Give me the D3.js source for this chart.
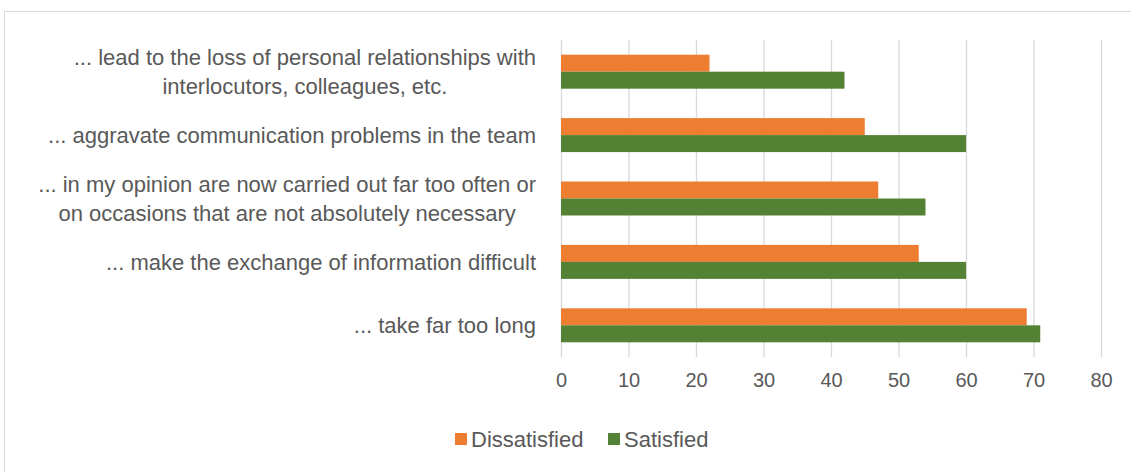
<!DOCTYPE html>
<html>
<head>
<meta charset="utf-8">
<script src="https://cdn.jsdelivr.net/npm/d3@7"></script>
<style>
  html, body { margin: 0; padding: 0; background: #fff; }
  svg { display: block; }
  text { font-family: "Liberation Sans", Arial, sans-serif; fill: #595959; }
</style>
</head>
<body>
<svg id="chart" width="1131" height="472"></svg>
<script>
// Statements, top to bottom (each may wrap onto two lines)
const categories = [
  ["... lead to the loss of personal relationships with", "interlocutors, colleagues, etc."],
  ["... aggravate communication problems in the team"],
  ["... in my opinion are now carried out far too often or", "on occasions that are not absolutely necessary"],
  ["... make the exchange of information difficult"],
  ["... take far too long"]
];
const seriesNames = ["Dissatisfied", "Satisfied"];
const dissatisfied = [22, 45, 47, 53, 69];
const satisfied = [42, 60, 54, 60, 71];
const xTicks = [0, 10, 20, 30, 40, 50, 60, 70, 80];
const colors = ["#ED7D31", "#548235"];

const svg = d3.select("#chart");

// Chart frame
svg.append("rect")
  .attr("x", 4.5).attr("y", 11.5)
  .attr("width", 1140).attr("height", 480)
  .attr("fill", "#fff").attr("stroke", "#d9d9d9").attr("stroke-width", 1);

const plot = { left: 561, right: 1101, top: 40, bottom: 357 };

const x = d3.scaleLinear().domain([0, 80]).range([plot.left, plot.right]);
const keys = categories.map((c, i) => i);
const y = d3.scaleBand().domain(keys).range([plot.top, plot.bottom])
  .paddingInner(0.464).paddingOuter(0.232);
const ySub = d3.scaleBand().domain([0, 1]).range([0, y.bandwidth()]);

// Vertical gridlines
const grid = svg.append("g")
  .attr("transform", `translate(0,${plot.bottom})`)
  .call(d3.axisBottom(x).tickValues(xTicks).tickSize(-(plot.bottom - plot.top)).tickFormat(""));
grid.select(".domain").remove();
grid.selectAll("line").attr("stroke", "#d9d9d9").attr("stroke-width", 1.3);

// Tick labels
const ax = svg.append("g")
  .attr("transform", `translate(0,${plot.bottom + 16})`)
  .call(d3.axisBottom(x).tickValues(xTicks).tickSize(0).tickPadding(0));
ax.select(".domain").remove();
ax.selectAll("text")
  .style("font-family", "'Liberation Sans', Arial, sans-serif")
  .style("font-size", "20px").attr("fill", "#595959").attr("dy", "0.71em");

// Bars
const series = [dissatisfied, satisfied];
series.forEach((vals, s) => {
  svg.append("g").selectAll("rect")
    .data(vals)
    .join("rect")
    .attr("x", x(0))
    .attr("y", (d, i) => y(i) + ySub(s))
    .attr("width", d => x(d) - x(0))
    .attr("height", ySub.bandwidth())
    .attr("fill", colors[s]);
});

// Category labels: block right-aligned to the axis, lines centred within the block
const lineH = 29;
const labelRight = 536;
const labels = svg.append("g");
categories.forEach((lines, i) => {
  const cy = y(i) + y.bandwidth() / 2;
  const t = labels.append("text")
    .attr("text-anchor", "middle")
    .attr("font-size", "22px");
  const spans = lines.map((ln, j) => t.append("tspan")
    .attr("y", cy + (j - (lines.length - 1) / 2) * lineH)
    .attr("dy", "0.35em")
    .text(ln));
  const maxW = d3.max(spans, sp => sp.node().getComputedTextLength());
  spans.forEach(sp => sp.attr("x", labelRight - maxW / 2));
});

// Legend
const legend = svg.append("g").attr("transform", "translate(455,439)");
const legendX = [0, 153];
seriesNames.forEach((name, s) => {
  const g = legend.append("g").attr("transform", `translate(${legendX[s]},0)`);
  g.append("rect").attr("x", 0).attr("y", -6).attr("width", 12).attr("height", 12).attr("fill", colors[s]);
  g.append("text").attr("x", 16).attr("y", 0).attr("dy", "0.35em")
    .attr("font-size", "22px").text(name);
});
</script>
</body>
</html>
